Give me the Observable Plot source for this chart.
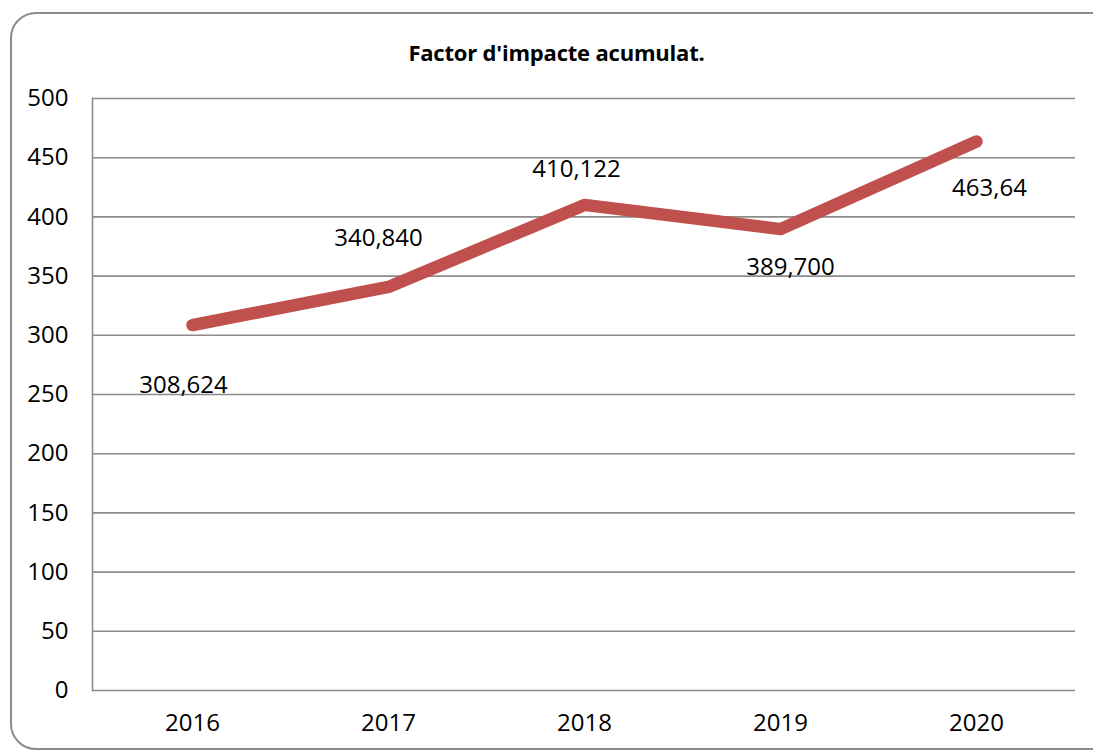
<!DOCTYPE html>
<html>
<head>
<meta charset="utf-8">
<script src="https://cdn.jsdelivr.net/npm/d3@7"></script>
<script src="https://cdn.jsdelivr.net/npm/@observablehq/plot@0.6"></script>
<style>
  html, body { margin: 0; padding: 0; background: #fff; }
  body { width: 1093px; height: 751px; position: relative; overflow: hidden; font-family: "Open Sans", sans-serif; }
  #frame { position: absolute; left: 10px; top: 12px; width: 1110px; height: 738px; border: 2px solid #8c8c8c; border-radius: 26px; box-sizing: border-box; }
  #title { position: absolute; left: 0; width: 1113px; top: 37px; text-align: center; font-weight: bold; font-size: 22px; letter-spacing: -0.2px; color: #000; }
  #chart { position: absolute; left: 0; top: 70px; }
</style>
</head>
<body>
<div id="frame"></div>
<div id="title">Factor d'impacte acumulat.</div>
<div id="chart"></div>
<script>
const years = ["2016", "2017", "2018", "2019", "2020"];
const values = [308.624, 340.840, 410.122, 389.700, 463.64];
const valueLabels = ["308,624", "340,840", "410,122", "389,700", "463,64"];
const yTicks = [0, 50, 100, 150, 200, 250, 300, 350, 400, 450, 500];

const data = years.map((y, i) => ({year: y, value: values[i], label: valueLabels[i]}));

const labelMark = (i, dx, dy) => Plot.text(data.filter((d, j) => j === i), {
  x: "year", y: "value", text: "label", dx, dy,
  fontSize: 24, fill: "#000", textAnchor: "middle"
});

const chart = Plot.plot({
  width: 1093,
  height: 681,
  marginTop: 28,
  marginBottom: 61,
  marginLeft: 92,
  marginRight: 18,
  style: {fontFamily: "'Open Sans', sans-serif", fontSize: "24px", color: "#000", background: "transparent"},
  x: {type: "point", domain: years, padding: 0.5, label: null},
  y: {domain: [0, 500], label: null},
  marks: [
    Plot.gridY(yTicks, {stroke: "#8c8c8c", strokeOpacity: 1, strokeWidth: 1.6}),
    Plot.frame({anchor: "left", stroke: "#8c8c8c", strokeWidth: 1.6}),
    Plot.axisY(yTicks, {tickSize: 0, tickPadding: 24, fontSize: 24, fill: "#000"}),
    Plot.axisX(years, {tickSize: 0, tickPadding: 23, fontSize: 24, fill: "#000"}),
    Plot.line(data, {x: "year", y: "value", stroke: "#C0504D", strokeWidth: 12.5, strokeLinecap: "round", strokeLinejoin: "round"}),
    labelMark(0, -9, 60),
    labelMark(1, -10, -49),
    labelMark(2, -8, -36),
    labelMark(3, 10, 38),
    labelMark(4, 13, 47)
  ]
});
document.getElementById("chart").appendChild(chart);
</script>
</body>
</html>
